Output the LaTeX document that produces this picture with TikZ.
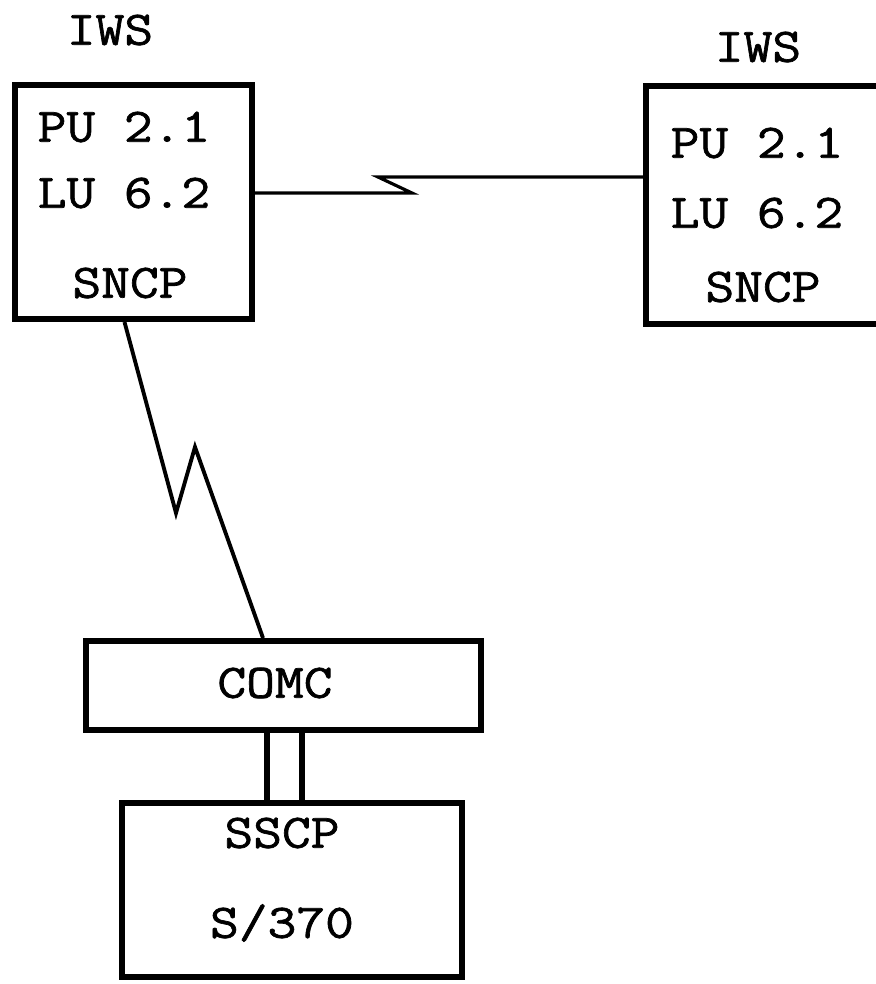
\documentclass[tikz,border=0pt]{standalone}
\usepackage{fontspec}
\setmonofont{Latin Modern Mono}[FakeStretch=1.16, FakeBold=1.4]
\usetikzlibrary{positioning}

\begin{document}
\begin{tikzpicture}[
  every node/.style = {font=\ttfamily\fontsize{13.7}{16}\selectfont},
  unit/.style  = {rectangle, draw=black, line width=1.7pt, inner sep=0pt},
  tag/.style   = {inner sep=0pt},
  link/.style  = {draw=black, line width=0.9pt, line join=miter},
  chan/.style  = {draw=black, line width=1.7pt}
]
\useasboundingbox (0,0) rectangle (8.76,-9.84);

%% ── WORKSTATIONS (top row) ──────────────────────────────────────
\node[unit, minimum width=2.37cm, minimum height=2.34cm] at (1.335,-2.02) (lws) {};
\node[unit, minimum width=2.34cm, minimum height=2.38cm] at (7.63,-2.05)  (rws) {};

\node[tag] at (1.10,-0.30) (liws) {IWS};
\node[tag] at (7.58,-0.47) (riws) {IWS};

\node[tag, anchor=west] at (0.37,-1.27) (lpu)   {PU 2.1};
\node[tag, anchor=west] at (0.37,-1.93) (llu)   {LU 6.2};
\node[tag]              at (1.30,-2.83) (lsncp) {SNCP};

\node[tag, anchor=west] at (6.70,-1.43) (rpu)   {PU 2.1};
\node[tag, anchor=west] at (6.70,-2.13) (rlu)   {LU 6.2};
\node[tag]              at (7.63,-2.87) (rsncp) {SNCP};

%% ── HOST SIDE (bottom) ──────────────────────────────────────────
\node[unit, minimum width=3.95cm, minimum height=0.89cm] at (2.835,-6.855) (comc) {};
\node[tag] at (2.75,-6.83) (comct) {COMC};

\node[unit, minimum width=3.40cm, minimum height=1.74cm] at (2.92,-8.90) (host) {};
\node[tag] at (2.82,-8.33) (sscp) {SSCP};
\node[tag] at (2.82,-9.23) (s370) {S/370};

%% ── LINKS ───────────────────────────────────────────────────────
\coordinate (zt1) at (4.12,-1.93);
\coordinate (zt2) at (3.78,-1.77);
\coordinate (zl1) at (1.76,-5.13);
\coordinate (zl2) at (1.95,-4.47);

\draw[link] (lws.east |- llu) -- (zt1) -- (zt2) -- (zt2 -| rws.west);
\draw[link, line width=1.1pt] ([xshift=-0.09cm]lws.south) -- (zl1) -- (zl2) -- ([xshift=-0.205cm]comc.north);

\draw[chan] ([xshift=-0.165cm]comc.south) -- ([xshift=-0.165cm]comc.south |- host.north);
\draw[chan] ([xshift=0.185cm]comc.south)  -- ([xshift=0.185cm]comc.south |- host.north);

\end{tikzpicture}
\end{document}
